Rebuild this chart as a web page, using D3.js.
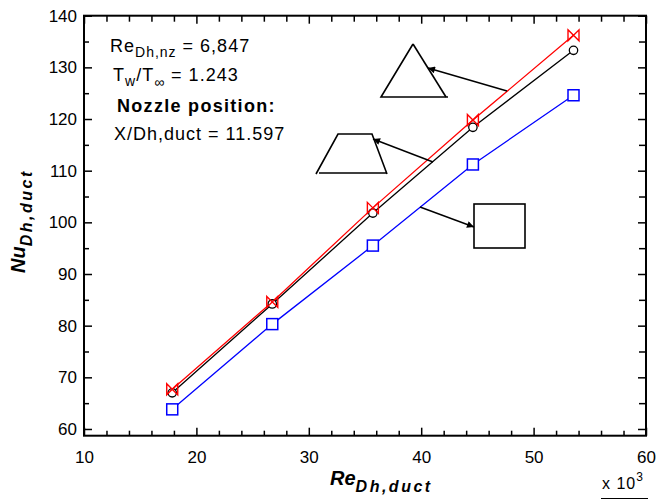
<!DOCTYPE html>
<html>
<head>
<meta charset="utf-8">
<script src="https://cdn.jsdelivr.net/npm/d3@7"></script>
<style>
  body { margin: 0; background: #fff; }
  text { font-family: Arial, "Liberation Sans", sans-serif; fill: #000; }
</style>
</head>
<body>
<div id="chart"></div>
<script>
// Reynolds number (x 10^3) for each run
const reValues = [17.85, 26.75, 35.7, 44.6, 53.55];

// Nusselt number per nozzle shape
const nuSquare = [63.8, 80.3, 95.5, 111.2, 124.6];
const nuTrapezoid = [67.0, 84.2, 101.8, 118.4, 133.3];
const nuTriangle = [67.7, 84.6, 102.8, 119.8, 136.2];

const xTicks = [10, 20, 30, 40, 50, 60];
const yTicks = [60, 70, 80, 90, 100, 110, 120, 130, 140];

const svgWidth = 657, svgHeight = 500;
const margin = { top: 15.7, right: 11, bottom: 64.3, left: 84 };
const width = svgWidth - margin.left - margin.right;
const height = svgHeight - margin.top - margin.bottom;

const svg = d3.select("#chart").append("svg")
  .attr("width", svgWidth)
  .attr("height", svgHeight);

const g = svg.append("g")
  .attr("transform", "translate(" + margin.left + "," + margin.top + ")");

const x = d3.scaleLinear().domain([10, 60]).range([0, width]);
const y = d3.scaleLinear().domain([58.7, 140]).range([height, 0]);

const xMinor = d3.range(12, 60, 2).filter(function(v) { return v % 10 !== 0; });
const yMinor = d3.range(65, 140, 10);

function styleAxis(sel) {
  sel.select(".domain").remove();
  sel.selectAll("line").attr("stroke", "#000").attr("stroke-width", 1.5);
  sel.selectAll("text").style("font-size", "17px").attr("fill", "#000");
}

// bottom axis with labels, ticks pointing in
g.append("g")
  .attr("transform", "translate(0," + height + ")")
  .call(d3.axisBottom(x).tickValues(xTicks).tickSize(-8).tickPadding(15))
  .call(styleAxis);
g.append("g")
  .attr("transform", "translate(0," + height + ")")
  .call(d3.axisBottom(x).tickValues(xMinor).tickSize(-5).tickFormat(""))
  .call(styleAxis);

// top axis, ticks only
g.append("g")
  .call(d3.axisTop(x).tickValues(xTicks).tickSize(-8).tickFormat(""))
  .call(styleAxis);
g.append("g")
  .call(d3.axisTop(x).tickValues(xMinor).tickSize(-6).tickFormat(""))
  .call(styleAxis);

// left axis with labels
g.append("g")
  .call(d3.axisLeft(y).tickValues(yTicks).tickSize(-8).tickPadding(7))
  .call(styleAxis);
g.append("g")
  .call(d3.axisLeft(y).tickValues(yMinor).tickSize(-5).tickFormat(""))
  .call(styleAxis);

// right axis, ticks only
g.append("g")
  .attr("transform", "translate(" + width + ",0)")
  .call(d3.axisRight(y).tickValues(yTicks).tickSize(-8).tickFormat(""))
  .call(styleAxis);
g.append("g")
  .attr("transform", "translate(" + width + ",0)")
  .call(d3.axisRight(y).tickValues(yMinor).tickSize(-7).tickFormat(""))
  .call(styleAxis);

// frame
g.append("rect")
  .attr("width", width)
  .attr("height", height)
  .attr("fill", "none")
  .attr("stroke", "#000")
  .attr("stroke-width", 2);

const line = d3.line()
  .x(function(d) { return x(d[0]); })
  .y(function(d) { return y(d[1]); });

const series = [
  { name: "square", values: nuSquare, color: "#0000ff" },
  { name: "trapezoid", values: nuTrapezoid, color: "#000000" },
  { name: "triangle", values: nuTriangle, color: "#ff0000" }
];

series.forEach(function(s) {
  const pts = reValues.map(function(r, i) { return [r, s.values[i]]; });
  s.points = pts;
  g.append("path")
    .datum(pts)
    .attr("fill", "none")
    .attr("stroke", s.color)
    .attr("stroke-width", 1.3)
    .attr("d", line);
});

// markers
g.selectAll(".sq")
  .data(series[0].points)
  .enter().append("rect")
  .attr("class", "sq")
  .attr("x", function(d) { return x(d[0]) - 5.5; })
  .attr("y", function(d) { return y(d[1]) - 5.5; })
  .attr("width", 11)
  .attr("height", 11)
  .attr("fill", "#fff")
  .attr("stroke", "#0000ff")
  .attr("stroke-width", 1.5);

g.selectAll(".circ")
  .data(series[1].points)
  .enter().append("circle")
  .attr("class", "circ")
  .attr("cx", function(d) { return x(d[0]); })
  .attr("cy", function(d) { return y(d[1]); })
  .attr("r", 4.2)
  .attr("fill", "#fff")
  .attr("stroke", "#000")
  .attr("stroke-width", 1.3);

g.selectAll(".bow")
  .data(series[2].points)
  .enter().append("path")
  .attr("class", "bow")
  .attr("transform", function(d) { return "translate(" + x(d[0]) + "," + y(d[1]) + ")"; })
  .attr("d", "M-5.5,-5.5L5.5,5.5L5.5,-5.5L-5.5,5.5Z")
  .attr("fill", "none")
  .attr("stroke", "#ff0000")
  .attr("stroke-width", 1.4);

// axis titles
svg.append("text")
  .attr("x", 330)
  .attr("y", 485)
  .style("font-size", "20px")
  .style("font-weight", "bold")
  .style("font-style", "italic")
  .text("Re")
  .append("tspan")
  .attr("dy", 7)
  .style("font-size", "16px")
  .style("letter-spacing", "2.5px")
  .text("Dh,duct");

svg.append("text")
  .attr("transform", "translate(25,273) rotate(-90)")
  .style("font-size", "20px")
  .style("font-weight", "bold")
  .style("font-style", "italic")
  .text("Nu")
  .append("tspan")
  .attr("dy", 7)
  .style("font-size", "16px")
  .style("letter-spacing", "2.5px")
  .text("Dh,duct");

// x 10^3 multiplier
const mult = svg.append("text")
  .attr("x", 602)
  .attr("y", 489)
  .style("font-size", "16px")
  .style("letter-spacing", "1px")
  .text("x 10");
mult.append("tspan").attr("dy", -8).style("font-size", "12px").text("3");
svg.append("line")
  .attr("x1", 601).attr("x2", 648)
  .attr("y1", 498.5).attr("y2", 498.5)
  .attr("stroke", "#000").attr("stroke-width", 1);

// condition notes
const note = svg.append("g").style("font-size", "18px").style("letter-spacing", "1px");
const t1 = note.append("text").attr("x", 110).attr("y", 52).text("Re");
t1.append("tspan").attr("dy", 5).style("font-size", "14px").text("Dh,nz");
t1.append("tspan").attr("dy", -5).text(" = 6,847");

const t2 = note.append("text").attr("x", 113).attr("y", 81).text("T");
t2.append("tspan").attr("dy", 5).style("font-size", "14px").text("w");
t2.append("tspan").attr("dy", -5).text("/T");
t2.append("tspan").attr("dy", 6).style("font-size", "14px").text("\u221e");
t2.append("tspan").attr("dy", -6).text(" = 1.243");

note.append("text").attr("x", 117).attr("y", 112)
  .style("font-weight", "bold")
  .style("letter-spacing", "1.3px")
  .text("Nozzle position:");
note.append("text").attr("x", 114).attr("y", 140).text("X/Dh,duct = 11.597");

// nozzle shape sketches with arrows
const defs = svg.append("defs");
defs.append("marker")
  .attr("id", "arrow")
  .attr("viewBox", "0 0 10 10")
  .attr("refX", 10).attr("refY", 5)
  .attr("markerWidth", 11).attr("markerHeight", 7)
  .attr("markerUnits", "userSpaceOnUse")
  .attr("orient", "auto")
  .append("path")
  .attr("d", "M0,0L10,5L0,10Z")
  .attr("fill", "#000");

const sketch = svg.append("g")
  .attr("fill", "none")
  .attr("stroke", "#000")
  .attr("stroke-width", 1.6);

sketch.append("path").attr("d", "M413,44L381,97L448,97");
sketch.append("path").attr("d", "M413,44L446,97");
sketch.append("line").attr("x1", 507).attr("y1", 91).attr("x2", 428).attr("y2", 68)
  .attr("stroke-width", 1.4).attr("marker-end", "url(#arrow)");

sketch.append("path").attr("d", "M316,174L338,134L372,134L387,174M319,173L387,173");
sketch.append("line").attr("x1", 433).attr("y1", 162).attr("x2", 373).attr("y2", 139)
  .attr("stroke-width", 1.4).attr("marker-end", "url(#arrow)");

sketch.append("rect").attr("x", 474).attr("y", 204).attr("width", 51).attr("height", 44);
sketch.append("line").attr("x1", 420).attr("y1", 207).attr("x2", 474).attr("y2", 227)
  .attr("stroke-width", 1.4).attr("marker-end", "url(#arrow)");
</script>
</body>
</html>
